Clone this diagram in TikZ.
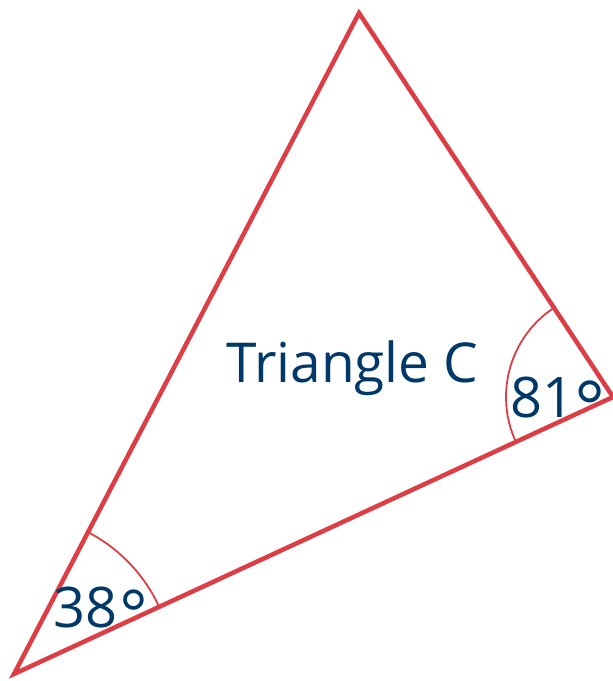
\documentclass[tikz,border=0pt]{standalone}
\usepackage{fontspec}
\setmainfont{Open Sans}
\definecolor{tred}{RGB}{221,62,69}
\definecolor{tblue}{RGB}{0,56,104}
\begin{document}
\begin{tikzpicture}[x=1pt,y=1pt,
  edge/.style={draw=tred,line width=4.5pt,line join=miter},
  anglearc/.style={draw=tred,line width=1.8pt},
  lbl/.style={text=tblue,inner sep=0pt,anchor=base west}]
\useasboundingbox (0,0) rectangle (613,681);
\coordinate (BL) at (14,7);
\coordinate (T) at (359,668);
\coordinate (R) at (613,284);
\draw[edge] (BL) -- (T) -- (R) -- cycle;
\draw[anglearc] ([shift={(24.8:160)}]BL) arc (24.8:62.5:160);
\draw[anglearc] ([shift={(123.5:107)}]R) arc (123.5:204.8:107);
\node[text=tblue,inner sep=0pt,anchor=base] (title) at (352.5,298) {\fontsize{55}{60}\selectfont Triangle C};
\node[lbl] (a81) at (510,263) {\fontsize{56}{60}\selectfont 81\hspace{0pt}\raisebox{-16pt}{\scalebox{1.3}{°}}};
\node[lbl] (a38) at (53,53) {\fontsize{56}{60}\selectfont 38\hspace{2pt}\raisebox{-11pt}{\scalebox{1.2}{°}}};
\end{tikzpicture}
\end{document}
